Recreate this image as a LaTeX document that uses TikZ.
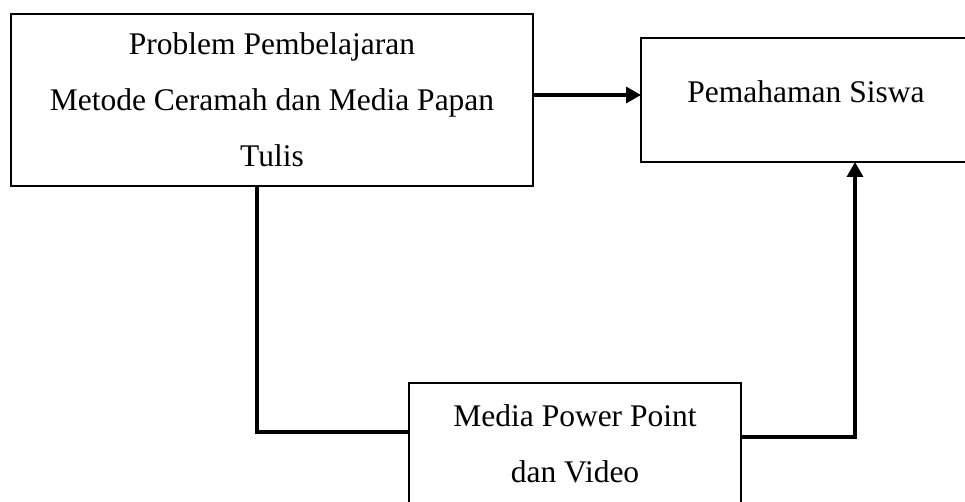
\documentclass[tikz,border=0pt]{standalone}
\usepackage{fontspec}
\setmainfont{Liberation Serif}
\usetikzlibrary{arrows.meta, positioning}

\begin{document}
\begin{tikzpicture}[
    x=1pt, y=-1pt,
    box/.style={rectangle, draw=black, line width=2pt, align=center, inner sep=0pt, outer sep=0pt, font=\fontsize{31.5}{56}\selectfont},
    line/.style={line width=3.3pt},
    arrow/.style={-{Triangle[length=15pt, width=16pt]}, line width=3.3pt}
]
\useasboundingbox (0,0) rectangle (965,502);

% Boxes
\node[box, minimum width=522pt, minimum height=172pt] (problem) at (272,100) {Problem Pembelajaran\\Metode Ceramah dan Media Papan\\Tulis};
\node[box, right=108pt of problem, minimum width=330pt, minimum height=124pt, text depth=17pt] (paham) {Pemahaman Siswa};
\node[box, minimum width=332pt, minimum height=122pt] (media) at (575,444) {Media Power Point\\dan Video};

% Bends
\coordinate (kiri) at (257,432);
\coordinate (kanan) at (855,437);

% Connectors
\draw[arrow] ([yshift=5pt]problem.east) -- ([yshift=5pt]problem.east -| paham.west);
\draw[line] (problem.south -| kiri) -- (kiri) -- (kiri -| media.west);
\draw[arrow] (kanan -| media.east) -- (kanan) -- (kanan |- paham.south);

\end{tikzpicture}
\end{document}
